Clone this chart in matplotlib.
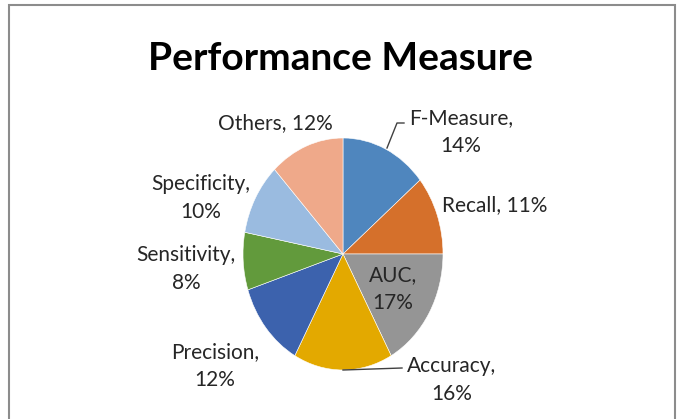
import matplotlib.pyplot as plt
from matplotlib.patches import Rectangle

plt.rcParams['font.family'] = ['Lato', 'DejaVu Sans']

# data
names = ['F-Measure', 'Recall', 'AUC', 'Accuracy', 'Precision',
         'Sensitivity', 'Specificity', 'Others']
shares = [14, 11, 17, 16, 12, 8, 10, 12]
colors = ['#4F86BE', '#D5702B', '#959595', '#E3A900', '#3C62AD',
          '#629A3C', '#9ABBE0', '#EFA98A']

W, H = 680, 419
fig = plt.figure(figsize=(W / 100, H / 100), dpi=100)

def fx(x):
    return x / W

def fy(y):
    return 1 - y / H

# outer chart frame (bottom edge is cut off in the original)
fig.patches.append(Rectangle((fx(9), fy(440)), fx(675) - fx(9), fy(5) - fy(440),
                             transform=fig.transFigure, fill=False,
                             edgecolor='#8c8c8c', linewidth=1.5))

fig.text(fx(340), fy(59), 'Performance Measure', ha='center', va='center',
         fontsize=28, fontweight='bold', color='black')

# pie axes bounded by the (slightly stretched) pie
ax = fig.add_axes([fx(243), fy(370), fx(443) - fx(243), fy(138) - fy(370)])
ax.pie(shares, colors=colors, startangle=90, counterclock=False,
       wedgeprops=dict(edgecolor='white', linewidth=0.4))
ax.set_aspect('auto')
ax.set_xlim(-1, 1)
ax.set_ylim(-1, 1)

# label layout: centre (px) and whether the label wraps
label_pos = [(461, 132), (495, 205), (393, 289), (452, 380),
             (215, 366), (186, 269), (201, 198), (275, 123)]
wrap = [True, False, True, True, True, True, True, False]

for name, pct, (x, y), w in zip(names, shares, label_pos, wrap):
    sep = '\n' if w else ' '
    fig.text(fx(x), fy(y), f'{name},{sep}{pct}%', ha='center', va='center',
             fontsize=15, color='#262626', linespacing=1.55)

# leader lines
fig.lines.append(plt.Line2D([fx(387), fx(397), fx(404)], [fy(148), fy(123), fy(123)],
                            transform=fig.transFigure, color='#404040', linewidth=1))
fig.lines.append(plt.Line2D([fx(343), fx(402)], [fy(370), fy(368)],
                            transform=fig.transFigure, color='#404040', linewidth=1))

fig.savefig('out.png', dpi=100, facecolor='white')
